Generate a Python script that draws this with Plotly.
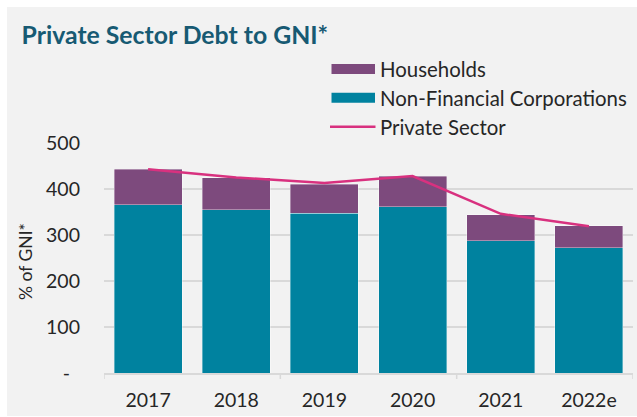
import plotly.graph_objects as go

# Chart data (% of GNI*)
years = ["2017", "2018", "2019", "2020", "2021", "2022e"]
non_financial_corps = [366, 355, 347, 361, 287, 272]
households = [77, 70, 63, 67, 57, 48]
private_sector = [443, 425, 413, 428, 346, 319]
y_ticks = [0, 100, 200, 300, 400, 500]
y_tick_labels = ["-\u00a0\u00a0", "100", "200", "300", "400", "500"]

W, H = 637, 417
M_L, M_R, M_T, M_B = 104, 4, 143, 44
PW, PH = W - M_L - M_R, H - M_T - M_B

TEAL = "#00829f"
PURPLE = "#7d4a7d"
PINK = "#d8317f"
TEXT = "#262626"
GRID = "#d9d9d9"
BG = "#f2f2f2"
FONT = "Lato"


def px_x(p):
    """Pixel x -> paper x."""
    return (p - M_L) / PW


def px_y(p):
    """Pixel y (from top) -> paper y."""
    return (H - M_B - p) / PH


fig = go.Figure()
fig.add_trace(go.Bar(
    x=years, y=non_financial_corps, name="Non-Financial Corporations",
    marker=dict(color=TEAL, line=dict(color="rgba(255,255,255,0.45)", width=0.8)),
    showlegend=False,
))
fig.add_trace(go.Bar(
    x=years, y=households, name="Households",
    marker=dict(color=PURPLE, line=dict(color="rgba(255,255,255,0.45)", width=0.8)),
    showlegend=False,
))
fig.add_trace(go.Scatter(
    x=years, y=private_sector, name="Private Sector", mode="lines",
    line=dict(color=PINK, width=2.5), showlegend=False,
))

shapes = []
# white frame strips around the grey panel
shapes.append(dict(type="rect", xref="paper", yref="paper", layer="below",
                   x0=px_x(0), x1=px_x(W), y0=px_y(0), y1=px_y(7),
                   fillcolor="white", line=dict(width=0)))
shapes.append(dict(type="rect", xref="paper", yref="paper", layer="below",
                   x0=px_x(0), x1=px_x(7), y0=px_y(0), y1=px_y(H),
                   fillcolor="white", line=dict(width=0)))
shapes.append(dict(type="rect", xref="paper", yref="paper", layer="below",
                   x0=px_x(0), x1=px_x(W), y0=px_y(416), y1=px_y(H),
                   fillcolor="white", line=dict(width=0)))

# category-boundary tick marks every two categories
for xb in [-0.5, 1.5, 3.5, 5.5]:
    shapes.append(dict(type="line", xref="x", yref="paper",
                       x0=xb, x1=xb, y0=0, y1=-6 / PH,
                       line=dict(color=GRID, width=1.5)))

# legend
legend_rows = [
    ("Households", PURPLE, 69, "bar"),
    ("Non-Financial Corporations", TEAL, 97.7, "bar"),
    ("Private Sector", PINK, 126.7, "line"),
]
annotations = []
for label, color, yc, kind in legend_rows:
    if kind == "bar":
        shapes.append(dict(type="rect", xref="paper", yref="paper",
                           x0=px_x(331.5), x1=px_x(375),
                           y0=px_y(yc + 5), y1=px_y(yc - 5),
                           fillcolor=color, line=dict(width=0)))
    else:
        shapes.append(dict(type="line", xref="paper", yref="paper",
                           x0=px_x(330), x1=px_x(375.5),
                           y0=px_y(yc), y1=px_y(yc),
                           line=dict(color=color, width=2.5)))
    annotations.append(dict(text=label, xref="paper", yref="paper",
                            x=px_x(378), y=px_y(yc), xanchor="left",
                            yanchor="middle", showarrow=False,
                            font=dict(family=FONT, size=20.4, color=TEXT)))

# y-axis title
annotations.append(dict(text="% of GNI*", xref="paper", yref="paper",
                        x=px_x(25), y=px_y(262), textangle=-90,
                        xanchor="center", yanchor="middle", showarrow=False,
                        font=dict(family=FONT, size=17.5, color=TEXT)))

fig.update_layout(
    width=W, height=H,
    margin=dict(l=M_L, r=M_R, t=M_T, b=M_B, autoexpand=False),
    paper_bgcolor=BG, plot_bgcolor=BG,
    barmode="stack", bargap=0.23,
    font=dict(family=FONT, color=TEXT),
    title=dict(text="<b>Private Sector Debt to GNI*</b>", xref="container",
               yref="container", x=21.5 / W, xanchor="left",
               y=1 - 35 / H, yanchor="middle",
               font=dict(family=FONT, size=24.8, color="#175a73")),
    xaxis=dict(type="category", showgrid=False, showline=True,
               linecolor=GRID, linewidth=1.5, ticks="",
               tickfont=dict(family=FONT, size=19.5, color=TEXT),
               ticklabelstandoff=9, range=[-0.5, 5.5]),
    yaxis=dict(range=[0, 500], tickvals=y_ticks, ticktext=y_tick_labels,
               showgrid=True, gridcolor=GRID, gridwidth=1.5,
               zeroline=False, showline=False, ticks="",
               tickfont=dict(family=FONT, size=19.5, color=TEXT),
               ticklabelstandoff=23),
    shapes=shapes,
    annotations=annotations,
)

fig.write_html("out.html")
